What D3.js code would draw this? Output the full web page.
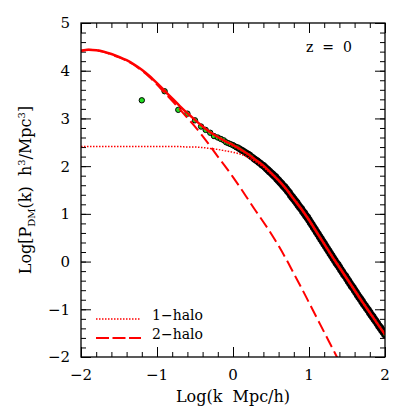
<!DOCTYPE html>
<html>
<head>
<meta charset="utf-8">
<script src="https://cdn.jsdelivr.net/npm/d3@7"></script>
<style>
  body { margin: 0; background: #fff; }
  text { font-family: "DejaVu Serif", serif; fill: #000; }
</style>
</head>
<body>
<div id="chart"></div>
<script>
// curves, log k from -2 to 2 in steps of 0.1
let logK = [-2.0, -1.9, -1.8, -1.7, -1.6, -1.5, -1.4, -1.3, -1.2, -1.1, -1.0,
            -0.9, -0.8, -0.7, -0.6, -0.5, -0.4, -0.3, -0.2, -0.1, 0.0,
            0.1, 0.2, 0.3, 0.4, 0.5, 0.6, 0.7, 0.8, 0.9, 1.0,
            1.1, 1.2, 1.3, 1.4, 1.5, 1.6, 1.7, 1.8, 1.9, 2.0];

let totalP = [4.42, 4.44, 4.43, 4.40, 4.35, 4.29, 4.22, 4.13, 4.02, 3.89, 3.74,
              3.58, 3.42, 3.26, 3.11, 2.97, 2.83, 2.71, 2.61, 2.52, 2.44,
              2.35, 2.25, 2.13, 2.01, 1.86, 1.70, 1.52, 1.31, 1.10, 0.87,
              0.62, 0.37, 0.12, -0.12, -0.36, -0.60, -0.84, -1.07, -1.30, -1.53];

let oneHaloP = [2.41, 2.41, 2.41, 2.41, 2.41, 2.41, 2.41, 2.41, 2.41, 2.41, 2.41,
                2.41, 2.41, 2.41, 2.40, 2.40, 2.39, 2.37, 2.35, 2.32, 2.29,
                2.25, 2.18, 2.09, 1.98, 1.84, 1.69, 1.51, 1.30, 1.09, 0.86,
                0.61, 0.36, 0.11, -0.13, -0.37, -0.61, -0.85, -1.08, -1.31, -1.54];

let twoHaloP = [4.42, 4.44, 4.43, 4.39, 4.34, 4.28, 4.21, 4.12, 4.00, 3.87, 3.71,
                3.54, 3.37, 3.19, 3.01, 2.83, 2.63, 2.42, 2.20, 1.99, 1.77,
                1.54, 1.30, 1.06, 0.83, 0.59, 0.33, 0.05, -0.25, -0.55, -0.86,
                -1.17, -1.48, -1.79, -2.10, null, null, null, null, null, null];

// simulation points (green circles)
let pointLogK = [-1.20, -0.90, -0.72, -0.60, -0.50, -0.42, -0.36, -0.30, -0.25, -0.20,
                 -0.16, -0.12, -0.09, -0.06, -0.03, 0.00,
                 0.02, 0.04, 0.06, 0.08, 0.10, 0.12, 0.14, 0.16, 0.18, 0.20,
                 0.22, 0.24, 0.26, 0.28, 0.30, 0.32, 0.34, 0.36, 0.38, 0.40,
                 0.42, 0.44, 0.46, 0.48, 0.50, 0.52, 0.54, 0.56, 0.58, 0.60,
                 0.62, 0.64, 0.66, 0.68, 0.70, 0.72, 0.74, 0.76, 0.78, 0.80,
                 0.82, 0.84, 0.86, 0.88, 0.90, 0.92, 0.94, 0.96, 0.98, 1.00,
                 1.02, 1.04, 1.06, 1.08, 1.10, 1.12, 1.14, 1.16, 1.18, 1.20,
                 1.22, 1.24, 1.26, 1.28, 1.30, 1.32, 1.34, 1.36, 1.38, 1.40,
                 1.42, 1.44, 1.46, 1.48, 1.50, 1.52, 1.54, 1.56, 1.58, 1.60,
                 1.62, 1.64, 1.66, 1.68, 1.70, 1.72, 1.74, 1.76, 1.78, 1.80,
                 1.82, 1.84, 1.86, 1.88, 1.90, 1.92, 1.94, 1.96, 1.98, 2.00];

let pointLogP = [3.38, 3.57, 3.18, 3.10, 2.96, 2.83, 2.76, 2.70, 2.63, 2.60,
                 2.57, 2.54, 2.50, 2.48, 2.46, 2.44,
                 2.42, 2.40, 2.39, 2.37, 2.35, 2.33, 2.31, 2.29, 2.27, 2.25,
                 2.23, 2.20, 2.18, 2.15, 2.13, 2.11, 2.08, 2.06, 2.03, 2.01,
                 1.98, 1.95, 1.92, 1.89, 1.86, 1.83, 1.80, 1.77, 1.73, 1.70,
                 1.66, 1.63, 1.59, 1.56, 1.52, 1.48, 1.44, 1.39, 1.35, 1.31,
                 1.27, 1.23, 1.18, 1.14, 1.10, 1.05, 1.01, 0.96, 0.92, 0.87,
                 0.82, 0.77, 0.72, 0.67, 0.62, 0.57, 0.52, 0.47, 0.42, 0.37,
                 0.32, 0.27, 0.22, 0.17, 0.12, 0.07, 0.02, -0.03, -0.07, -0.12,
                 -0.17, -0.22, -0.27, -0.31, -0.36, -0.41, -0.46, -0.51, -0.55, -0.60,
                 -0.65, -0.70, -0.75, -0.79, -0.84, -0.89, -0.93, -0.98, -1.02, -1.07,
                 -1.12, -1.16, -1.21, -1.25, -1.30, -1.35, -1.39, -1.44, -1.48, -1.53];

let xTicks = [-2, -1, 0, 1, 2];
let yTicks = [-2, -1, 0, 1, 2, 3, 4, 5];

// sizes
let width = 407, height = 407;
let margin = { left: 81, right: 22, top: 23, bottom: 50 };

let svg = d3.select("#chart")
    .append("svg")
    .attr("width", width)
    .attr("height", height);

svg.append("rect")
    .attr("width", width)
    .attr("height", height)
    .attr("fill", "#fff");

let x = d3.scaleLinear().domain([-2, 2]).range([margin.left, width - margin.right]);
let y = d3.scaleLinear().domain([-2, 5]).range([height - margin.bottom, margin.top]);

svg.append("clipPath")
    .attr("id", "plotClip")
    .append("rect")
    .attr("x", x(-2))
    .attr("y", y(5))
    .attr("width", x(2) - x(-2))
    .attr("height", y(-2) - y(5));

// ticks on all four sides, pointing inward
let minorX = d3.range(-2, 2.001, 0.2).map((d) => +d.toFixed(1));
let minorY = d3.range(-2, 5.001, 0.2).map((d) => +d.toFixed(1));

function inwardAxis(axisFn, scale, values, size, translate) {
    svg.append("g")
        .attr("transform", translate)
        .call(axisFn(scale).tickValues(values).tickSize(size).tickFormat(""))
        .call((g) => g.select(".domain").remove())
        .call((g) => g.selectAll("line").attr("stroke", "#000").attr("stroke-width", 1));
}

inwardAxis(d3.axisTop, x, minorX, 5, `translate(0,${y(-2)})`);
inwardAxis(d3.axisTop, x, xTicks, 10, `translate(0,${y(-2)})`);
inwardAxis(d3.axisBottom, x, minorX, 5, `translate(0,${y(5)})`);
inwardAxis(d3.axisBottom, x, xTicks, 10, `translate(0,${y(5)})`);
inwardAxis(d3.axisRight, y, minorY, 5, `translate(${x(-2)},0)`);
inwardAxis(d3.axisRight, y, yTicks, 10, `translate(${x(-2)},0)`);
inwardAxis(d3.axisLeft, y, minorY, 5, `translate(${x(2)},0)`);
inwardAxis(d3.axisLeft, y, yTicks, 10, `translate(${x(2)},0)`);

let fmt = (d) => (d < 0 ? "\u2212" + Math.abs(d) : "" + d);

// tick labels
svg.append("g")
    .selectAll("text")
    .data(xTicks)
    .enter()
    .append("text")
    .attr("x", (d) => x(d))
    .attr("y", y(-2) + 23)
    .attr("text-anchor", "middle")
    .style("font-size", "15px")
    .text(fmt);

svg.append("g")
    .selectAll("text")
    .data(yTicks)
    .enter()
    .append("text")
    .attr("x", x(-2) - 11)
    .attr("y", (d) => y(d))
    .attr("dy", "0.36em")
    .attr("text-anchor", "end")
    .style("font-size", "15px")
    .text(fmt);

// data points, drawn low k first so the crowded ones pile up into a dark band
let points = pointLogK.map((k, i) => ({ k: k, p: pointLogP[i] }));

// outlines get heavier where the simulation points crowd together
let edge = d3.scaleLinear().domain([0.05, 0.6]).range([1, 2.2]).clamp(true);

svg.append("g")
    .attr("clip-path", "url(#plotClip)")
    .selectAll("circle")
    .data(points)
    .enter()
    .append("circle")
    .attr("cx", (d) => x(d.k))
    .attr("cy", (d) => y(d.p))
    .attr("r", 2.7)
    .attr("fill", "#22dd22")
    .attr("stroke", "#000")
    .attr("stroke-width", (d) => edge(d.k));

// model curves
function curveLine(values) {
    return d3.line()
        .defined((d, i) => values[i] !== null)
        .x((d) => x(d))
        .y((d, i) => y(values[i]))
        .curve(d3.curveMonotoneX)(logK);
}

let curves = svg.append("g").attr("clip-path", "url(#plotClip)");

curves.append("path")
    .attr("d", curveLine(oneHaloP))
    .attr("fill", "none")
    .attr("stroke", "#ff0000")
    .attr("stroke-width", 1.5)
    .attr("stroke-dasharray", "1.5,1.5");

curves.append("path")
    .attr("d", curveLine(twoHaloP))
    .attr("fill", "none")
    .attr("stroke", "#ff0000")
    .attr("stroke-width", 2)
    .attr("stroke-dasharray", "12,5");

curves.append("path")
    .attr("d", curveLine(totalP))
    .attr("fill", "none")
    .attr("stroke", "#ff0000")
    .attr("stroke-width", 2.5);

// frame
svg.append("rect")
    .attr("x", x(-2))
    .attr("y", y(5))
    .attr("width", x(2) - x(-2))
    .attr("height", y(-2) - y(5))
    .attr("fill", "none")
    .attr("stroke", "#000")
    .attr("stroke-width", 1.3);

// legend
svg.append("line")
    .attr("x1", 96).attr("x2", 141)
    .attr("y1", 319).attr("y2", 319)
    .attr("stroke", "#ff0000")
    .attr("stroke-width", 1.5)
    .attr("stroke-dasharray", "1.5,1.5");

svg.append("line")
    .attr("x1", 96).attr("x2", 141)
    .attr("y1", 338).attr("y2", 338)
    .attr("stroke", "#ff0000")
    .attr("stroke-width", 2)
    .attr("stroke-dasharray", "13,3.5");

svg.append("text")
    .attr("x", 152).attr("y", 320)
    .style("font-size", "14px")
    .text("1\u2212halo");

svg.append("text")
    .attr("x", 152).attr("y", 339)
    .style("font-size", "14px")
    .text("2\u2212halo");

svg.append("text")
    .attr("x", 329).attr("y", 52)
    .attr("text-anchor", "middle")
    .style("font-size", "14px")
    .style("white-space", "pre")
    .text("z  =  0");

// axis titles
svg.append("text")
    .attr("x", 233).attr("y", 402)
    .attr("text-anchor", "middle")
    .style("font-size", "16px")
    .style("white-space", "pre")
    .text("Log(k  Mpc/h)");

let ylab = svg.append("text")
    .attr("transform", "translate(31,190) rotate(-90)")
    .attr("text-anchor", "middle")
    .style("font-size", "16px")
    .style("white-space", "pre");

ylab.append("tspan").text("Log[P");
ylab.append("tspan").attr("dy", 4).style("font-size", "10px").text("DM");
ylab.append("tspan").attr("dy", -4).text("(k)  h");
ylab.append("tspan").attr("dy", -6).style("font-size", "10px").text("3");
ylab.append("tspan").attr("dy", 6).text("/Mpc");
ylab.append("tspan").attr("dy", -6).style("font-size", "10px").text("3");
ylab.append("tspan").attr("dy", 6).text("]");
</script>
</body>
</html>
